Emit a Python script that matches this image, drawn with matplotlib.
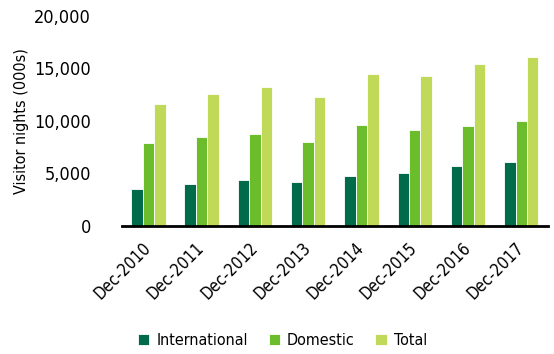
import numpy as np
import matplotlib
matplotlib.use("Agg")
import matplotlib.pyplot as plt
from matplotlib import font_manager

# pick a narrow face if one is installed, else condensed DejaVu
names = {f.name for f in font_manager.fontManager.ttflist}
narrow = [f for f in font_manager.fontManager.ttflist
          if f.stretch in ("condensed", "semi-condensed", "extra-condensed")
          or "Narrow" in f.name or "Condensed" in f.name]
if "Liberation Sans Narrow" in names:
    plt.rcParams["font.family"] = ["Liberation Sans Narrow", "DejaVu Sans"]
elif narrow:
    plt.rcParams["font.family"] = [narrow[0].name, "DejaVu Sans"]
    plt.rcParams["font.stretch"] = "condensed"
else:
    plt.rcParams["font.family"] = ["DejaVu Sans"]

categories = ["Dec-2010", "Dec-2011", "Dec-2012", "Dec-2013",
              "Dec-2014", "Dec-2015", "Dec-2016", "Dec-2017"]
international = [3520, 4000, 4380, 4220, 4730, 5020, 5710, 6060]
domestic = [7930, 8480, 8760, 8000, 9620, 9140, 9520, 9970]
total = [11590, 12600, 13270, 12310, 14480, 14250, 15400, 16100]

series = [("International", international, "#006B4B"),
          ("Domestic", domestic, "#6BBD2B"),
          ("Total", total, "#C1D958")]

fig = plt.figure(figsize=(5.54, 3.54), dpi=100)
ax = fig.add_axes([0.2197, 0.3616, 0.7693, 0.5932])

x = np.arange(len(categories))
w = 0.215
for i, (name, vals, color) in enumerate(series):
    ax.bar(x + (i - 1) * w, vals, width=w, color=color,
           edgecolor="white", linewidth=0.6, label=name)

ax.set_xlim(-0.5, len(categories) - 0.5)
ax.set_ylim(0, 20000)
ax.set_yticks([0, 5000, 10000, 15000, 20000])
ax.set_yticklabels(["0", "5,000", "10,000", "15,000", "20,000"], fontsize=13)
ax.set_xticks(x)
ax.set_xticklabels(categories, rotation=45, ha="right", va="center",
                   rotation_mode="anchor", fontsize=12)
ax.tick_params(axis="both", length=0)
ax.tick_params(axis="y", pad=22)
ax.tick_params(axis="x", pad=14)

for side in ["top", "right", "left"]:
    ax.spines[side].set_visible(False)
ax.spines["bottom"].set_linewidth(2)
ax.spines["bottom"].set_color("black")

ax.set_ylabel("Visitor nights (000s)", fontsize=11.5, labelpad=4)

fig.legend(loc="lower center", bbox_to_anchor=(0.51, -0.025), ncol=3,
           frameon=False, fontsize=11.5, handlelength=0.7, handleheight=0.7,
           handletextpad=0.45, columnspacing=1.3)

fig.savefig("out.png", dpi=100)
